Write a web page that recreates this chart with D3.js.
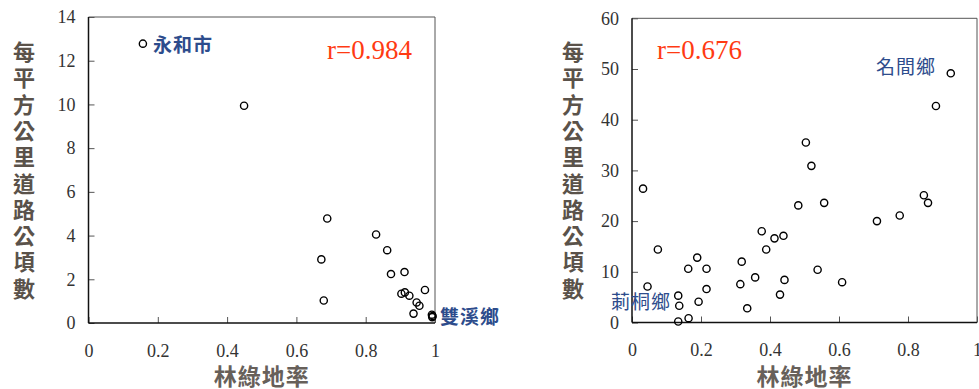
<!DOCTYPE html>
<html>
<head>
<meta charset="utf-8">
<script src="https://cdn.jsdelivr.net/npm/d3@7"></script>
<style>
  body { margin: 0; background: #fff; }
  .tick text { font-family: "Liberation Serif", "Times New Roman", serif; font-size: 18px; fill: #333; }
  .tick line { stroke: #555; }
  .domain { display: none; }
</style>
</head>
<body>
<svg id="chart" width="979" height="389"></svg>
<script>
// left panel: forest ratio vs road density
var leftX = [0.157, 0.449, 0.689, 0.830, 0.672, 0.862, 0.912, 0.873, 0.679, 0.971,
             0.903, 0.913, 0.926, 0.947, 0.955, 0.938, 0.991, 0.992, 0.993];
var leftY = [12.78, 9.94, 4.78, 4.05, 2.91, 3.33, 2.33, 2.24, 1.03, 1.51,
             1.34, 1.40, 1.25, 0.94, 0.79, 0.43, 0.38, 0.27, 0.32];

// right panel
var rightX = [0.924, 0.881, 0.504, 0.520, 0.032, 0.846, 0.858, 0.557, 0.482, 0.710,
              0.776, 0.376, 0.413, 0.439, 0.389, 0.075, 0.189, 0.163, 0.216, 0.318,
              0.538, 0.357, 0.442, 0.609, 0.314, 0.045, 0.216, 0.429, 0.134, 0.137,
              0.193, 0.334, 0.164, 0.134];
var rightY = [49.15, 42.7, 35.5, 30.9, 26.4, 25.1, 23.6, 23.6, 23.1, 20.0,
              21.1, 18.0, 16.6, 17.1, 14.4, 14.4, 12.8, 10.6, 10.6, 12.0,
              10.4, 8.9, 8.4, 7.95, 7.56, 7.1, 6.6, 5.5, 5.3, 3.3,
              4.1, 2.8, 0.85, 0.2];

var xTicks = [0, 0.2, 0.4, 0.6, 0.8, 1];
var leftYTicks = [0, 2, 4, 6, 8, 10, 12, 14];
var rightYTicks = [0, 10, 20, 30, 40, 50, 60];

var yTitle = "每平方公里道路公頃數";
var xTitle = "林綠地率";

var svg = d3.select("#chart");

function drawPanel(opt) {
  var x = d3.scaleLinear().domain([0, 1]).range([opt.x0, opt.x1]);
  var y = d3.scaleLinear().domain([0, opt.yMax]).range([opt.y0, opt.y1]);
  var g = svg.append("g");

  // frame: top and right lighter
  g.append("line").attr("x1", opt.x0).attr("x2", opt.x1).attr("y1", opt.y1).attr("y2", opt.y1)
    .attr("stroke", "#555").attr("stroke-width", 1);
  g.append("line").attr("x1", opt.x1).attr("x2", opt.x1).attr("y1", opt.y1).attr("y2", opt.y0)
    .attr("stroke", "#555").attr("stroke-width", 1);

  g.append("g")
    .attr("transform", `translate(0, ${opt.y0})`)
    .call(d3.axisBottom(x).tickValues(xTicks).tickFormat(d3.format("")).tickSizeInner(-6).tickSizeOuter(0).tickPadding(21));

  g.append("g")
    .attr("transform", `translate(${opt.x0}, 0)`)
    .call(d3.axisLeft(y).tickValues(opt.yTicks).tickSizeInner(-6).tickSizeOuter(0).tickPadding(13));

  g.append("line").attr("x1", opt.x0).attr("x2", opt.x1).attr("y1", opt.y0).attr("y2", opt.y0)
    .attr("stroke", "#111").attr("stroke-width", 1.5);
  g.append("line").attr("x1", opt.x0).attr("x2", opt.x0).attr("y1", opt.y1).attr("y2", opt.y0)
    .attr("stroke", "#111").attr("stroke-width", 1.5);

  g.selectAll("circle.pt")
    .data(opt.xs.map((v, i) => [v, opt.ys[i]]))
    .enter()
    .append("circle")
    .attr("class", "pt")
    .attr("cx", d => x(d[0]))
    .attr("cy", d => y(d[1]))
    .attr("r", 3.6)
    .attr("fill", "none")
    .attr("stroke", "#000")
    .attr("stroke-width", 1.4);

  // vertical y title
  g.selectAll("text.yt")
    .data(yTitle.split(""))
    .enter()
    .append("text")
    .attr("class", "yt")
    .attr("x", opt.titleX)
    .attr("y", (d, i) => 50 + i * 26.3)
    .attr("text-anchor", "middle")
    .attr("dominant-baseline", "central")
    .attr("font-family", "Noto Sans CJK TC")
    .attr("font-weight", 700)
    .attr("font-size", "22px")
    .attr("fill", "#5a524a")
    .text(d => d);

  g.append("text")
    .attr("x", (opt.x0 + opt.x1) / 2)
    .attr("y", 375)
    .attr("text-anchor", "middle")
    .attr("dominant-baseline", "central")
    .attr("font-family", "Noto Sans CJK TC")
    .attr("font-weight", 700)
    .attr("font-size", "23px")
    .attr("letter-spacing", "1px")
    .attr("fill", "#67605a")
    .text(xTitle);

  g.append("text")
    .attr("x", opt.rX)
    .attr("y", 50)
    .attr("dominant-baseline", "central")
    .attr("font-family", "Liberation Serif")
    .attr("font-size", "27px")
    .attr("fill", "#ff3a12")
    .text(opt.r);

  opt.labels.forEach(function(l) {
    g.append("text")
      .attr("x", l.x)
      .attr("y", l.y)
      .attr("dominant-baseline", "central")
      .attr("font-family", "Noto Sans CJK TC")
      .attr("font-weight", l.w)
      .attr("font-size", "19px")
      .attr("letter-spacing", "1px")
      .attr("fill", "#2d4c8c")
      .text(l.t);
  });
}

drawPanel({
  x0: 88.5, x1: 435, y0: 323, y1: 17, yMax: 14, yTicks: leftYTicks,
  xs: leftX, ys: leftY, titleX: 24, rX: 327, r: "r=0.984",
  labels: [{ t: "永和市", x: 153, y: 43, w: 700 }, { t: "雙溪鄉", x: 440, y: 315, w: 700 }]
});

drawPanel({
  x0: 632, x1: 977, y0: 322.5, y1: 18.3, yMax: 60, yTicks: rightYTicks,
  xs: rightX, ys: rightY, titleX: 573, rX: 657, r: "r=0.676",
  labels: [{ t: "名間鄉", x: 876, y: 65, w: 400 }, { t: "莿桐鄉", x: 611, y: 300, w: 400 }]
});
</script>
</body>
</html>
